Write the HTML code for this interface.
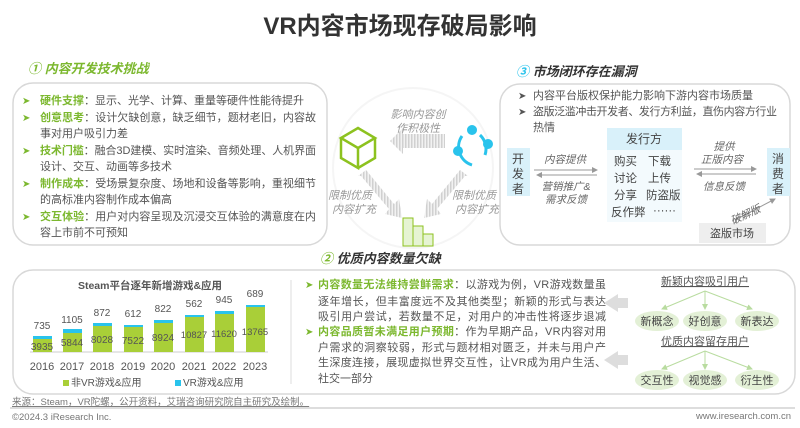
<!DOCTYPE html>
<html><head><meta charset="utf-8"><style>
html,body{margin:0;padding:0;background:#fff;}
svg{display:block;font-family:"Liberation Sans","Noto Sans CJK SC",sans-serif;}
</style></head><body>
<svg width="800" height="428" viewBox="0 0 800 428" xmlns="http://www.w3.org/2000/svg">
<defs>
<pattern id="st" width="3" height="3" patternUnits="userSpaceOnUse"><rect width="3" height="3" fill="#f2f2f2"/><rect width="1.5" height="3" fill="#d0d0d0"/></pattern>
<marker id="ag" markerWidth="6" markerHeight="6" refX="5" refY="3" orient="auto"><path d="M0,0L6,3L0,6z" fill="#999"/></marker>
<marker id="agr" markerWidth="6" markerHeight="6" refX="5" refY="3" orient="auto"><path d="M0,0L6,3L0,6z" fill="#b9dca0"/></marker>
</defs>
<text x="400" y="34" text-anchor="middle" font-size="24" font-weight="bold" fill="#333">VR内容市场现存破局影响</text>

<!-- Section 1 -->
<text x="28" y="73" font-size="13" font-weight="bold" font-style="italic" fill="#7cb82f">① 内容开发技术挑战</text>
<rect x="13" y="83" width="314" height="162" rx="20" fill="#fff" stroke="#d8d8d8" stroke-width="1.5"/>
<g font-size="11" fill="#555">
<g fill="#7cb82f" font-size="10"><text x="22" y="104">➤</text><text x="22" y="121">➤</text><text x="22" y="154">➤</text><text x="22" y="187">➤</text><text x="22" y="220">➤</text></g>
<text x="40" y="104" textLength="264"><tspan fill="#7cb82f" font-weight="bold">硬件支撑</tspan>：显示、光学、计算、重量等硬件性能待提升</text>
<text x="40" y="121" textLength="276"><tspan fill="#7cb82f" font-weight="bold">创意思考</tspan>：设计欠缺创意，缺乏细节，题材老旧，内容故</text>
<text x="40" y="137">事对用户吸引力差</text>
<text x="40" y="154" textLength="276"><tspan fill="#7cb82f" font-weight="bold">技术门槛</tspan>：融合3D建模、实时渲染、音频处理、人机界面</text>
<text x="40" y="170">设计、交互、动画等多技术</text>
<text x="40" y="187" textLength="276"><tspan fill="#7cb82f" font-weight="bold">制作成本</tspan>：受场景复杂度、场地和设备等影响，重视细节</text>
<text x="40" y="203">的高标准内容制作成本偏高</text>
<text x="40" y="220" textLength="276"><tspan fill="#7cb82f" font-weight="bold">交互体验</tspan>：用户对内容呈现及沉浸交互体验的满意度在内</text>
<text x="40" y="236">容上市前不可预知</text>
</g>

<!-- Middle -->
<circle cx="413" cy="168" r="80" fill="none" stroke="#f5f5f5" stroke-width="2"/>
<g fill="none" stroke="#8dc21f" stroke-width="2.5">
<path d="M341,138 L358,128 L375,138 L358,148 Z"/><path d="M341,138 V158 L358,168 V148"/><path d="M375,138 V158 L358,168"/>
</g>
<g stroke="#29c3ec" stroke-width="3" fill="none"><path d="M462,136 A19,19 0 0 0 472,165"/><path d="M480,135 A19,19 0 0 1 485,155"/></g>
<circle cx="472" cy="130" r="5" fill="#29c3ec"/><circle cx="458" cy="151" r="5" fill="#29c3ec"/><circle cx="488" cy="144" r="5" fill="#29c3ec"/>
<path d="M445,134 H403 V128 L390,141 L403,154 V148 H445 Z" fill="url(#st)"/>
<text x="418" y="118" text-anchor="middle" font-size="11" font-style="italic" fill="#999">影响内容创</text>
<text x="418" y="132" text-anchor="middle" font-size="11" font-style="italic" fill="#999">作积极性</text>
<path d="M358,176 L366,170 L394,204 L399,199 L402,218 L385,214 L389,209 L361,176 Z" fill="url(#st)"/>
<path d="M468,176 L460,170 L432,204 L427,199 L424,218 L441,214 L437,209 L465,176 Z" fill="url(#st)"/>
<g font-size="11" font-style="italic" fill="#999">
<text x="328" y="199">限制优质</text><text x="332" y="213">内容扩充</text>
<text x="452" y="199">限制优质</text><text x="455" y="213">内容扩充</text>
</g>
<g fill="#e6f4d3" stroke="#8dc21f" stroke-width="1"><rect x="403" y="218" width="10" height="28"/><rect x="413" y="226" width="10" height="20"/><rect x="423" y="234" width="10" height="12"/></g>

<!-- Section 3 -->
<text x="516" y="76" font-size="13" font-weight="bold" font-style="italic" fill="#333"><tspan fill="#29c3ec">③</tspan> 市场闭环存在漏洞</text>
<rect x="500" y="84" width="290" height="161" rx="20" fill="#fff" stroke="#d8d8d8" stroke-width="1.5"/>
<g font-size="11" fill="#555">
<text x="518" y="99" font-size="10">➤</text><text x="533" y="99" textLength="220">内容平台版权保护能力影响下游内容市场质量</text>
<text x="518" y="115" font-size="10">➤</text><text x="533" y="115" textLength="244">盗版泛滥冲击开发者、发行方利益，直伤内容方行业</text>
<text x="533" y="131">热情</text>
</g>
<rect x="507" y="148" width="23" height="48" fill="#d9f1fa"/>
<g font-size="12" fill="#444" text-anchor="middle"><text x="518" y="163">开</text><text x="518" y="178">发</text><text x="518" y="193">者</text></g>
<rect x="607" y="128" width="75" height="22" fill="#d9f1fa"/>
<text x="644" y="143" text-anchor="middle" font-size="12" fill="#444">发行方</text>
<rect x="607" y="150" width="75" height="72" fill="#f3fafd"/>
<g font-size="11.5" fill="#444"><text x="614" y="165">购买</text><text x="648" y="165">下载</text><text x="614" y="182">讨论</text><text x="648" y="182">上传</text><text x="614" y="199">分享</text><text x="646" y="199">防盗版</text><text x="611" y="216">反作弊</text><text x="653" y="214">······</text></g>
<rect x="767" y="148" width="23" height="48" fill="#d9f1fa"/>
<g font-size="12" fill="#444" text-anchor="middle"><text x="778" y="163">消</text><text x="778" y="178">费</text><text x="778" y="193">者</text></g>
<rect x="699" y="223" width="67" height="20" fill="#eeeeee"/>
<text x="732" y="237" text-anchor="middle" font-size="11" fill="#444">盗版市场</text>
<g stroke="#999" stroke-width="1"><line x1="534" y1="170" x2="597" y2="170" marker-end="url(#ag)"/><line x1="597" y1="175" x2="537" y2="175" marker-end="url(#ag)"/>
<line x1="694" y1="169" x2="756" y2="169" marker-end="url(#ag)"/><line x1="756" y1="174" x2="697" y2="174" marker-end="url(#ag)"/>
<line x1="735" y1="220" x2="775" y2="199" marker-end="url(#ag)"/></g>
<g font-size="10.5" font-style="italic" fill="#666">
<text x="565" y="163" text-anchor="middle">内容提供</text>
<text x="566" y="190" text-anchor="middle">营销推广&amp;</text><text x="566" y="203" text-anchor="middle">需求反馈</text>
<text x="724" y="150" text-anchor="middle">提供</text><text x="722" y="163" text-anchor="middle">正版内容</text>
<text x="724" y="190" text-anchor="middle">信息反馈</text>
<text x="747" y="218" transform="rotate(-25 747 218)" text-anchor="middle">破解版</text>
</g>

<!-- Section 2 -->
<text x="320" y="263" font-size="13" font-weight="bold" font-style="italic" fill="#333"><tspan fill="#7cb82f">②</tspan> 优质内容数量欠缺</text>
<rect x="13" y="270" width="782" height="124" rx="20" fill="#fff" stroke="#d8d8d8" stroke-width="1.5"/>
<line x1="291" y1="280" x2="291" y2="384" stroke="#ddd"/>
<text x="150" y="289" text-anchor="middle" font-size="10.5" font-weight="bold" fill="#555">Steam平台逐年新增游戏&amp;应用</text>
<line x1="30" y1="352" x2="268" y2="352" stroke="#ccc"/>
<g font-size="10" fill="#555" text-anchor="middle">
<rect x="33" y="339" width="19" height="13" fill="#a9cf38"/><rect x="33" y="336" width="19" height="3" fill="#29c3ec"/><text x="42" y="350">3935</text><text x="42" y="329">735</text><text x="42" y="370" font-size="11">2016</text>
<rect x="63" y="333" width="19" height="19" fill="#a9cf38"/><rect x="63" y="329" width="19" height="4" fill="#29c3ec"/><text x="72" y="346">5844</text><text x="72" y="323">1105</text><text x="72" y="370" font-size="11">2017</text>
<rect x="93" y="326" width="19" height="26" fill="#a9cf38"/><rect x="93" y="323" width="19" height="3" fill="#29c3ec"/><text x="102" y="343">8028</text><text x="102" y="316">872</text><text x="102" y="370" font-size="11">2018</text>
<rect x="124" y="327" width="19" height="25" fill="#a9cf38"/><rect x="124" y="325" width="19" height="2" fill="#29c3ec"/><text x="133" y="344">7522</text><text x="133" y="317">612</text><text x="133" y="370" font-size="11">2019</text>
<rect x="154" y="323" width="19" height="29" fill="#a9cf38"/><rect x="154" y="320" width="19" height="3" fill="#29c3ec"/><text x="163" y="341">8924</text><text x="163" y="312">822</text><text x="163" y="370" font-size="11">2020</text>
<rect x="185" y="317" width="19" height="35" fill="#a9cf38"/><rect x="185" y="315" width="19" height="2" fill="#29c3ec"/><text x="194" y="338" font-size="9.5">10827</text><text x="194" y="307">562</text><text x="194" y="370" font-size="11">2021</text>
<rect x="215" y="314" width="19" height="38" fill="#a9cf38"/><rect x="215" y="311" width="19" height="3" fill="#29c3ec"/><text x="224" y="337" font-size="9.5">11620</text><text x="224" y="303">945</text><text x="224" y="370" font-size="11">2022</text>
<rect x="246" y="307" width="19" height="45" fill="#a9cf38"/><rect x="246" y="305" width="19" height="2" fill="#29c3ec"/><text x="255" y="335" font-size="9.5">13765</text><text x="255" y="297">689</text><text x="255" y="370" font-size="11">2023</text>
</g>
<rect x="63" y="380" width="6" height="6" fill="#a9cf38"/><text x="71" y="386" font-size="10" fill="#555">非VR游戏&amp;应用</text>
<rect x="175" y="380" width="6" height="6" fill="#29c3ec"/><text x="183" y="386" font-size="10" fill="#555">VR游戏&amp;应用</text>

<g font-size="11" fill="#555">
<text x="305" y="288" font-size="10" fill="#7cb82f">➤</text>
<text x="318" y="288" textLength="288"><tspan fill="#7cb82f" font-weight="bold">内容数量无法维持尝鲜需求</tspan>：以游戏为例，VR游戏数量虽</text>
<text x="318" y="305" textLength="288">逐年增长，但丰富度远不及其他类型；新颖的形式与表达</text>
<text x="318" y="320" textLength="288">吸引用户尝试，若数量不足，对用户的冲击性将逐步退减</text>
<text x="305" y="335" font-size="10" fill="#7cb82f">➤</text>
<text x="318" y="335" textLength="288"><tspan fill="#7cb82f" font-weight="bold">内容品质暂未满足用户预期</tspan>：作为早期产品，VR内容对用</text>
<text x="318" y="351" textLength="288">户需求的洞察较弱，形式与题材相对匮乏，并未与用户产</text>
<text x="318" y="366" textLength="288">生深度连接，展现虚拟世界交互性，让VR成为用户生活、</text>
<text x="318" y="382">社交一部分</text>
</g>
<path d="M628,298 H618 V294 L604,303 L618,312 V308 H628 Z" fill="#ddd"/>
<path d="M628,355 H618 V351 L604,360 L618,369 V365 H628 Z" fill="#ddd"/>
<g font-size="11" fill="#555" text-anchor="middle">
<text x="705" y="285" text-decoration="underline">新颖内容吸引用户</text>
<text x="705" y="345" text-decoration="underline">优质内容留存用户</text>
</g>
<g stroke="#b9dca0" stroke-width="1"><line x1="705" y1="291" x2="662" y2="309" marker-end="url(#agr)"/><line x1="705" y1="291" x2="705" y2="309" marker-end="url(#agr)"/><line x1="705" y1="291" x2="752" y2="309" marker-end="url(#agr)"/>
<line x1="705" y1="351" x2="662" y2="369" marker-end="url(#agr)"/><line x1="705" y1="351" x2="705" y2="369" marker-end="url(#agr)"/><line x1="705" y1="351" x2="752" y2="369" marker-end="url(#agr)"/></g>
<g fill="#e3f0d6"><ellipse cx="657" cy="321" rx="22" ry="10"/><ellipse cx="705" cy="321" rx="22" ry="10"/><ellipse cx="757" cy="321" rx="22" ry="10"/><ellipse cx="657" cy="380" rx="22" ry="10"/><ellipse cx="705" cy="380" rx="22" ry="10"/><ellipse cx="757" cy="380" rx="22" ry="10"/></g>
<g font-size="11" fill="#444" text-anchor="middle"><text x="657" y="325">新概念</text><text x="705" y="325">好创意</text><text x="757" y="325">新表达</text><text x="657" y="384">交互性</text><text x="705" y="384">视觉感</text><text x="757" y="384">衍生性</text></g>

<!-- Footer -->
<text x="12" y="405" font-size="9.5" fill="#777" text-decoration="underline">来源：Steam，VR陀螺，公开资料，艾瑞咨询研究院自主研究及绘制。</text>
<line x1="10" y1="408" x2="795" y2="408" stroke="#bbb"/>
<text x="12" y="420" font-size="9.5" fill="#777">©2024.3 iResearch Inc.</text>
<text x="791" y="419" font-size="9.5" fill="#777" text-anchor="end">www.iresearch.com.cn</text>
</svg>
</body></html>
